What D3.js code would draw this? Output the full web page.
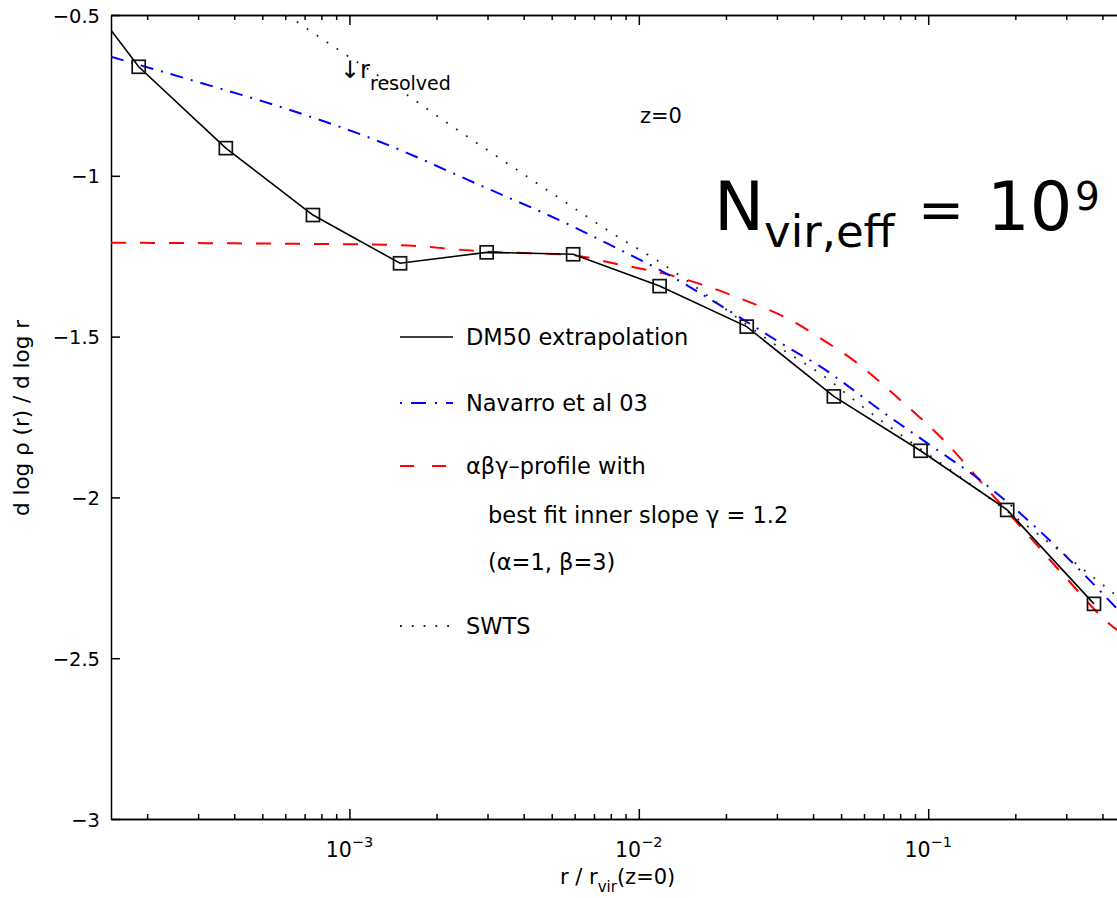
<!DOCTYPE html>
<html><head><meta charset="utf-8">
<script src="https://cdn.jsdelivr.net/npm/d3@7"></script>
<style>
body{margin:0;background:#fff}
svg{display:block}
text{font-family:"DejaVu Sans",sans-serif;fill:#000}
</style>
</head><body>
<svg id="chart" width="1117" height="898"></svg>
<script>
// ---------- data ----------
// DM50 extrapolation: markers
const dm50R     = [1.87e-4, 3.74e-4, 7.48e-4, 1.496e-3, 2.98e-3, 5.93e-3, 1.18e-2, 2.36e-2, 4.72e-2, 9.41e-2, 0.1875, 0.374];
const dm50Slope = [-0.661, -0.914, -1.122, -1.272, -1.238, -1.244, -1.343, -1.469, -1.686, -1.855, -2.039, -2.331];
// extrapolated start of the DM50 line (left edge of the plot)
const dm50StartR = 1.5e-4;
const dm50StartSlope = -0.547;

// Navarro et al 03
const navR     = [1.5e-4, 2.96e-4, 5.74e-4, 1.274e-3, 2.82e-3, 5.93e-3, 8.38e-3, 1.183e-2, 1.858e-2, 3.24e-2, 4.34e-2, 5.51e-2, 6.81e-2, 0.1014, 0.151, 0.2307, 0.334, 0.4426, 0.5];
const navSlope = [-0.630, -0.707, -0.785, -0.894, -1.029, -1.158, -1.225, -1.293, -1.396, -1.531, -1.599, -1.666, -1.728, -1.837, -1.946, -2.086, -2.226, -2.340, -2.39];

// alpha-beta-gamma profile (gamma = 1.2)
const abgR     = [1.5e-4, 4e-4, 1.41e-3, 2.98e-3, 5.93e-3, 8.17e-3, 1.349e-2, 2.234e-2, 3.51e-2, 4.34e-2, 5.51e-2, 7.78e-2, 0.1159, 0.1592, 0.2188, 0.3006, 0.4345, 0.5];
const abgSlope = [-1.208, -1.210, -1.215, -1.236, -1.247, -1.272, -1.314, -1.381, -1.459, -1.511, -1.573, -1.687, -1.832, -1.972, -2.112, -2.252, -2.402, -2.44];

// SWTS
const swtsR     = [6.08e-4, 9.02e-4, 1.552e-3, 2.10e-3, 3.66e-3, 6.25e-3, 7.94e-3, 1.151e-2, 2.91e-2, 4.70e-2, 5.36e-2, 8.20e-2, 0.1288, 0.2636, 0.4365, 0.5];
const swtsSlope = [-0.500, -0.604, -0.743, -0.826, -0.972, -1.112, -1.174, -1.262, -1.521, -1.645, -1.687, -1.811, -1.936, -2.143, -2.298, -2.34];

// axes
const xDomain = [1.5e-4, 1];
const yDomain = [-3, -0.5];
const yTicks = [-3, -2.5, -2, -1.5, -1, -0.5];
const xMajorExp = [-3, -2, -1];

// legend
const legendLabels = ["DM50 extrapolation", "Navarro et al 03", "\u03b1\u03b2\u03b3\u2013profile with", "SWTS"];
const legendExtra = ["best fit inner slope \u03b3 = 1.2", "(\u03b1=1, \u03b2=3)"];

// ---------- layout ----------
const svg = d3.select("#chart");
const L = 111, T = 15, B = 819;
const x = d3.scaleLog().domain(xDomain).range([L, 1217.6]);
const y = d3.scaleLinear().domain(yDomain).range([B, T]);

// minor ticks
const minor = [];
for (let e = -4; e <= 0; e++) for (let m = 1; m <= 9; m++) {
  const v = m * Math.pow(10, e);
  if (v >= xDomain[0] && v <= xDomain[1]) minor.push(v);
}
const major = xMajorExp.map(e => Math.pow(10, e));
const minorOnly = minor.filter(v => !major.some(M => Math.abs(M - v) / M < 1e-9));

svg.append("defs").append("clipPath").attr("id", "plotclip")
  .append("rect").attr("x", L).attr("y", T).attr("width", 1300).attr("height", B - T);

function styleAxis(g) {
  g.selectAll("path, line").attr("stroke", "#000").attr("stroke-width", 1.5);
  g.selectAll("text").remove();
}
// bottom axis (ticks inward)
svg.append("g").attr("transform", `translate(0,${B})`)
  .call(d3.axisBottom(x).tickValues(minorOnly).tickSizeInner(-5).tickSizeOuter(0)).call(styleAxis);
svg.append("g").attr("transform", `translate(0,${B})`)
  .call(d3.axisBottom(x).tickValues(major).tickSizeInner(-10).tickSizeOuter(0)).call(styleAxis);
// top axis
svg.append("g").attr("transform", `translate(0,${T})`)
  .call(d3.axisTop(x).tickValues(minorOnly).tickSizeInner(-5).tickSizeOuter(0)).call(styleAxis);
svg.append("g").attr("transform", `translate(0,${T})`)
  .call(d3.axisTop(x).tickValues(major).tickSizeInner(-10).tickSizeOuter(0)).call(styleAxis);
// left axis
const yAx = svg.append("g").attr("transform", `translate(${L},0)`)
  .call(d3.axisLeft(y).tickValues(yTicks).tickSizeInner(-9).tickSizeOuter(0).tickPadding(11).tickFormat(d3.format("~g")));
yAx.selectAll("path, line").attr("stroke", "#000").attr("stroke-width", 1.5);
yAx.selectAll("text").attr("font-size", 19.5).attr("font-family", "DejaVu Sans").attr("fill", "#000").attr("dy", "0.36em");

// x tick labels with superscripts
const xl = svg.append("g");
xMajorExp.forEach(e => {
  const t = xl.append("text").attr("x", x(Math.pow(10, e))).attr("y", 857)
    .attr("text-anchor", "middle").attr("font-size", 20.5);
  t.append("tspan").text("10");
  t.append("tspan").attr("dy", -10).attr("font-size", 14.5).text("\u2212" + Math.abs(e));
});

// axis titles
const xt = svg.append("text").attr("x", 560).attr("y", 884).attr("font-size", 21);
xt.append("tspan").text("r / r");
xt.append("tspan").attr("dy", 8).attr("font-size", 15).text("vir");
xt.append("tspan").attr("dy", -8).text("(z=0)");

svg.append("text").attr("transform", "translate(29,418) rotate(-90)")
  .attr("text-anchor", "middle").attr("font-size", 21.5).text("d log \u03c1 (r) / d log r");

// ---------- series ----------
const plot = svg.append("g").attr("clip-path", "url(#plotclip)");
const line = d3.line().x(d => x(d[0])).y(d => y(d[1]));
const curve = d3.line().x(d => x(d[0])).y(d => y(d[1])).curve(d3.curveMonotoneX);

plot.append("path").datum(d3.zip(abgR, abgSlope)).attr("d", curve)
  .attr("fill", "none").attr("stroke", "#ff0000").attr("stroke-width", 2).attr("stroke-dasharray", "15,14");
plot.append("path").datum(d3.zip(navR, navSlope)).attr("d", curve)
  .attr("fill", "none").attr("stroke", "#0000ff").attr("stroke-width", 2).attr("stroke-dasharray", "13,8,2,8");
plot.append("path").datum(d3.zip(swtsR, swtsSlope)).attr("d", curve)
  .attr("fill", "none").attr("stroke", "#222").attr("stroke-width", 1.8).attr("stroke-dasharray", "1.8,10.2");
plot.append("path").datum([[dm50StartR, dm50StartSlope]].concat(d3.zip(dm50R, dm50Slope))).attr("d", line)
  .attr("fill", "none").attr("stroke", "#000").attr("stroke-width", 1.6);
plot.selectAll("rect.mk").data(d3.zip(dm50R, dm50Slope)).join("rect").attr("class", "mk")
  .attr("x", d => x(d[0]) - 6.5).attr("y", d => y(d[1]) - 6.5).attr("width", 13).attr("height", 13)
  .attr("fill", "none").attr("stroke", "#111").attr("stroke-width", 1.7);

// ---------- legend ----------
const lg = svg.append("g");
const lx0 = 400, lx1 = 453, tx = 466;
const rows = [337, 403, 466, 626];
const styles = [
  {c: "#000", d: null, w: 1.6},
  {c: "#0000ff", d: "2,9,15,9", w: 2},
  {c: "#ff0000", d: "14,18", w: 2},
  {c: "#222", d: "1.8,10", w: 1.8}
];
legendLabels.forEach((lab, i) => {
  const s = styles[i];
  const ln = lg.append("line").attr("x1", lx0).attr("x2", lx1).attr("y1", rows[i]).attr("y2", rows[i])
    .attr("stroke", s.c).attr("stroke-width", s.w);
  if (s.d) ln.attr("stroke-dasharray", s.d);
  lg.append("text").attr("x", tx).attr("y", rows[i] + 8).attr("font-size", 22.5).text(lab);
});
lg.append("text").attr("x", 488).attr("y", 523).attr("font-size", 22.5).text(legendExtra[0]);
lg.append("text").attr("x", 488).attr("y", 570).attr("font-size", 22.5).text(legendExtra[1]);

// ---------- annotations ----------
svg.append("text").attr("x", 640).attr("y", 123).attr("font-size", 21).text("z=0");
const rr = svg.append("text").attr("x", 340).attr("y", 78).attr("font-size", 24);
rr.append("tspan").text("\u2193r");
rr.append("tspan").attr("dy", 12).attr("font-size", 19).text("resolved");

const nf = "'Open Sans', sans-serif";
const nt = svg.append("text").attr("y", 230).attr("font-family", nf).attr("font-size", 67);
nt.append("tspan").attr("x", 714).text("N");
nt.append("tspan").attr("x", 764).attr("dy", 17).attr("font-size", 45).text("vir,eff");
nt.append("tspan").attr("x", 918).attr("dy", -37).attr("font-size", 55).attr("dominant-baseline", "central").text("=");
nt.append("tspan").attr("x", 987).attr("y", 230).attr("dominant-baseline", "auto").text("10");
nt.append("tspan").attr("x", 1075).attr("y", 210).attr("font-size", 39).text("9");
</script>
</body></html>
